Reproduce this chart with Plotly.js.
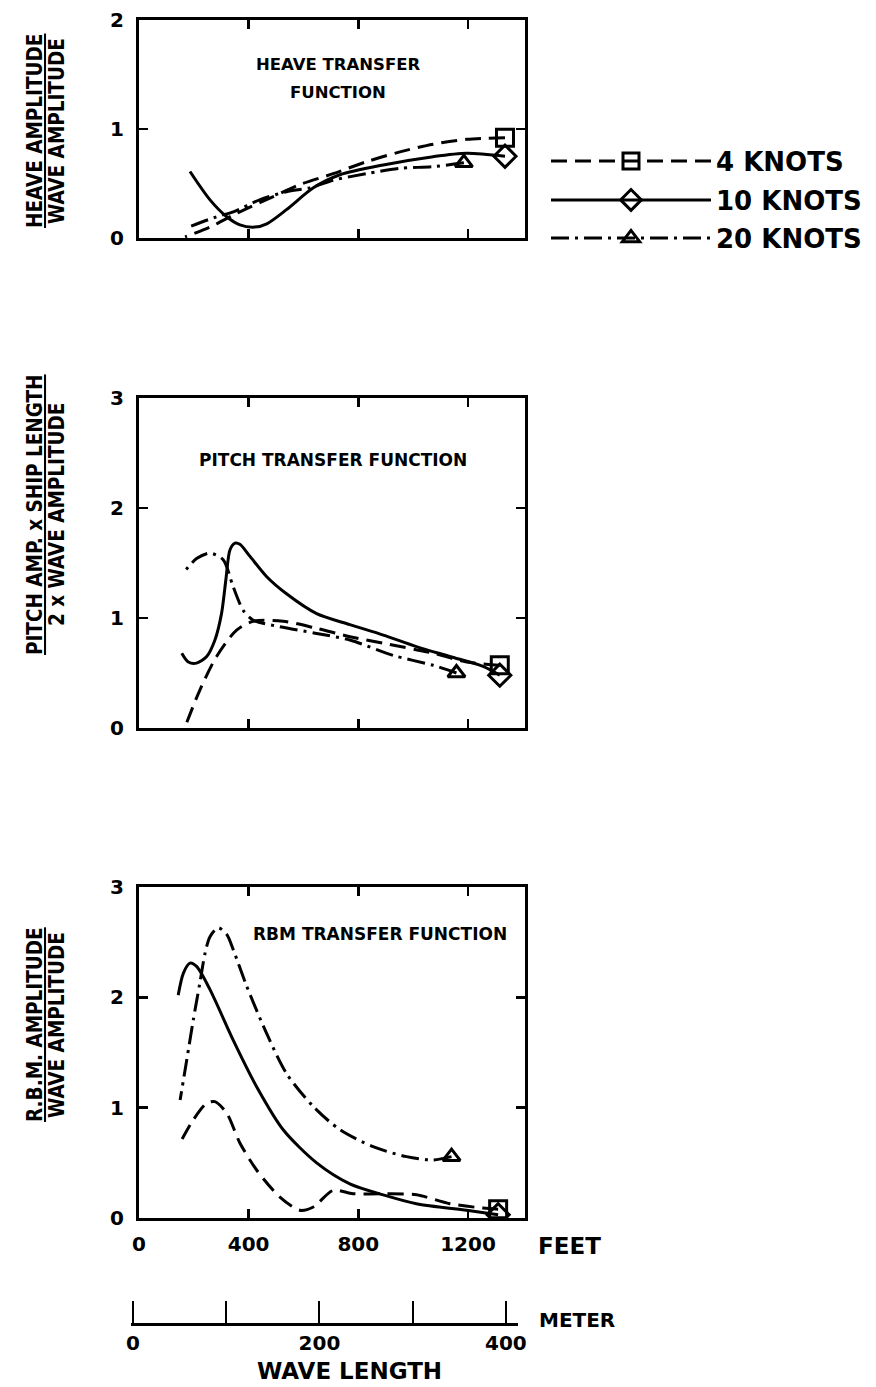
<!DOCTYPE html>
<html><head><meta charset="utf-8">
<script src="https://cdn.plot.ly/plotly-3.0.1.min.js"></script>
<style>html,body{margin:0;padding:0;background:#fff}#chart{width:876px;height:1387px}</style>
</head><body><div id="chart"></div>
<script>
// ---------- data (wave length in feet, transfer-function value) ----------
const seriesNames = ['4 KNOTS', '10 KNOTS', '20 KNOTS'];

const heaveX4  = [168, 259, 344, 393, 490, 587, 708, 830, 952, 1073, 1195, 1335];
const heaveY4  = [0.01, 0.10, 0.21, 0.27, 0.38, 0.49, 0.59, 0.70, 0.79, 0.86, 0.905, 0.92];
const heaveX10 = [186, 259, 320, 368, 423, 466, 538, 636, 733, 891, 1073, 1195, 1335];
const heaveY10 = [0.61, 0.35, 0.195, 0.12, 0.10, 0.13, 0.26, 0.46, 0.58, 0.67, 0.746, 0.777, 0.75];
const heaveX20 = [180, 283, 344, 440, 538, 623, 708, 830, 952, 1073, 1185];
const heaveY20 = [0.10, 0.195, 0.24, 0.35, 0.425, 0.46, 0.53, 0.59, 0.64, 0.654, 0.69];

const pitchX4  = [168, 222, 283, 356, 417, 526, 648, 769, 891, 1073, 1195, 1316];
const pitchY4  = [0.01, 0.345, 0.65, 0.89, 0.97, 0.97, 0.906, 0.83, 0.77, 0.68, 0.60, 0.57];
const pitchX10 = [156, 180, 210, 247, 277, 301, 317, 332, 350, 368, 405, 466, 538, 648, 769, 891, 1012, 1134, 1255, 1316];
const pitchY10 = [0.68, 0.60, 0.59, 0.65, 0.80, 1.04, 1.35, 1.62, 1.68, 1.67, 1.56, 1.375, 1.22, 1.04, 0.94, 0.845, 0.74, 0.65, 0.56, 0.48];
const pitchX20 = [162, 210, 259, 307, 344, 380, 417, 514, 648, 769, 927, 1073, 1158];
const pitchY20 = [1.41, 1.54, 1.59, 1.53, 1.28, 1.07, 0.98, 0.92, 0.86, 0.80, 0.66, 0.57, 0.50];

const rbmX4  = [156, 198, 247, 277, 320, 368, 429, 514, 587, 636, 708, 781, 891, 1012, 1134, 1255, 1310];
const rbmY4  = [0.71, 0.89, 1.04, 1.055, 0.95, 0.68, 0.435, 0.19, 0.07, 0.10, 0.25, 0.22, 0.22, 0.21, 0.13, 0.09, 0.08];
const rbmX10 = [143, 162, 186, 210, 259, 344, 429, 526, 648, 769, 891, 1012, 1195, 1310];
const rbmY10 = [2.02, 2.22, 2.31, 2.28, 2.07, 1.61, 1.19, 0.80, 0.50, 0.31, 0.21, 0.13, 0.07, 0.03];
const rbmX20 = [150, 174, 198, 222, 241, 259, 289, 320, 344, 393, 466, 538, 636, 733, 854, 976, 1073, 1140];
const rbmY20 = [1.07, 1.43, 1.795, 2.13, 2.40, 2.55, 2.63, 2.57, 2.43, 2.10, 1.67, 1.31, 1.01, 0.80, 0.646, 0.556, 0.526, 0.556];

const feetTicks = [0, 400, 800, 1200];
const feetTickText = ['0', '400', '800', '1200'];
const meterTicks = [0, 100, 200, 300, 400];
const meterTickText = ['0', '', '200', '', '400'];
const heaveTicks = [0, 1, 2];
const fullTicks = [0, 1, 2, 3];

// ---------- styles ----------
const W = 876, H = 1387;
const px = v => v / W;          // pixel -> paper x
const py = v => 1 - v / H;      // pixel -> paper y
const dashes = ['16px,8px', 'solid', '18px,6px,3px,6px'];
const symbols = ['square', 'diamond', 'triangle-up'];
const msize = [17, 17, 15];
const legendIds = ['legend', 'legend2', 'legend3'];
const legendRowsY = [161, 200, 238];
const CLEAR = 'rgba(0,0,0,0)';
const BOLD = {family: 'DejaVu Sans', weight: 'bold', color: '#000'};
const NARROW = {family: 'DejaVu Sans Condensed, Liberation Sans Narrow, Liberation Sans', weight: 'bold', color: '#000'};

// each curve is drawn from its far (right-hand) end so the end symbol is its first point
function trace(x, y, k, ax, showlegend) {
  const xr = x.slice().reverse(), yr = y.slice().reverse();
  return {
    x: xr, y: yr, name: seriesNames[k], legend: legendIds[k], showlegend: showlegend,
    xaxis: 'x' + ax, yaxis: 'y' + ax, type: 'scatter', mode: 'lines+markers',
    line: {color: '#000', width: 3, dash: dashes[k], shape: 'spline', smoothing: 0.8},
    marker: {symbol: symbols[k], color: CLEAR, size: msize[k],
             line: {width: 3, color: xr.map((_, i) => i === 0 ? '#000' : CLEAR)}},
    hoverinfo: 'x+y'
  };
}

const data = [
  trace(heaveX4, heaveY4, 0, '', true), trace(heaveX10, heaveY10, 1, '', true), trace(heaveX20, heaveY20, 2, '', true),
  trace(pitchX4, pitchY4, 0, '2', false), trace(pitchX10, pitchY10, 1, '2', false), trace(pitchX20, pitchY20, 2, '2', false),
  trace(rbmX4, rbmY4, 0, '3', false), trace(rbmX10, rbmY10, 1, '3', false), trace(rbmX20, rbmY20, 2, '3', false),
  // helper so the metric scale axis is drawn
  {x: meterTicks, y: meterTicks.map(() => 0), xaxis: 'x4', yaxis: 'y4', type: 'scatter', mode: 'markers',
   marker: {opacity: 0}, showlegend: false, hoverinfo: 'skip'}
];

const xDom = [px(139), px(525)];
const frame = {showline: true, linewidth: 3, linecolor: '#000', mirror: 'ticks', ticks: 'inside',
               ticklen: 9, tickwidth: 2.5, tickcolor: '#000', showgrid: false, zeroline: false, fixedrange: true};
function xax(showLabels, anchor) {
  return Object.assign({}, frame, {domain: xDom, range: [0, 1408], anchor: anchor,
    tickvals: showLabels ? feetTicks : feetTicks.slice(1), ticktext: showLabels ? feetTickText : feetTickText.slice(1),
    showticklabels: showLabels, tickfont: Object.assign({size: 20}, BOLD), ticklabelstandoff: 6});
}
function yax(dom, maxV, ticks, anchor) {
  return Object.assign({}, frame, {domain: dom, range: [0, maxV], tickvals: ticks, anchor: anchor,
    tickfont: Object.assign({size: 20}, BOLD), ticklabelstandoff: 8});
}
function legendAt(rowY) {
  return {x: px(546), y: py(rowY), xanchor: 'left', yanchor: 'middle', itemwidth: 160, itemsizing: 'trace',
          bgcolor: CLEAR, font: Object.assign({size: 26}, BOLD)};
}

const annotations = [
  {text: 'HEAVE TRANSFER', x: px(338), y: py(65), font: Object.assign({size: 16.5}, BOLD)},
  {text: 'FUNCTION', x: px(338), y: py(92), font: Object.assign({size: 16.5}, BOLD)},
  {text: 'PITCH TRANSFER FUNCTION', x: px(333), y: py(460), font: Object.assign({size: 17}, BOLD)},
  {text: 'RBM TRANSFER FUNCTION', x: px(380), y: py(934), font: Object.assign({size: 17}, BOLD)},
  {text: 'FEET', x: px(569), y: py(1246), font: Object.assign({size: 23}, BOLD)},
  {text: 'METER', x: px(577), y: py(1320), font: Object.assign({size: 20}, BOLD)},
  {text: 'WAVE LENGTH', x: px(349), y: py(1371), font: Object.assign({size: 23}, BOLD)},
  {text: '<u>HEAVE AMPLITUDE</u>', x: px(35), y: py(131), textangle: -90, font: Object.assign({size: 20.5}, NARROW)},
  {text: 'WAVE AMPLITUDE', x: px(57), y: py(131), textangle: -90, font: Object.assign({size: 20.5}, NARROW)},
  {text: '<u>PITCH AMP. x SHIP LENGTH</u>', x: px(35), y: py(515), textangle: -90, font: Object.assign({size: 20.5}, NARROW)},
  {text: '2 x WAVE AMPLITUDE', x: px(57), y: py(515), textangle: -90, font: Object.assign({size: 20.5}, NARROW)},
  {text: '<u>R.B.M. AMPLITUDE</u>', x: px(35), y: py(1025), textangle: -90, font: Object.assign({size: 20.5}, NARROW)},
  {text: 'WAVE AMPLITUDE', x: px(57), y: py(1025), textangle: -90, font: Object.assign({size: 20.5}, NARROW)}
].map(a => Object.assign({xref: 'paper', yref: 'paper', showarrow: false, xanchor: 'center', yanchor: 'middle'}, a));

const layout = {
  width: W, height: H, margin: {l: 0, r: 0, t: 0, b: 0},
  paper_bgcolor: '#fff', plot_bgcolor: '#fff', showlegend: true,
  xaxis: xax(false, 'y'), yaxis: yax([py(238), py(20)], 2, heaveTicks, 'x'),
  xaxis2: xax(false, 'y2'), yaxis2: yax([py(728), py(398)], 3, fullTicks, 'x2'),
  xaxis3: xax(true, 'y3'), yaxis3: yax([py(1218), py(887)], 3, fullTicks, 'x3'),
  xaxis4: {domain: [px(130.7), px(518)], range: [-2.5, 413], anchor: 'y4', showline: true, linewidth: 3, linecolor: '#000',
           ticks: 'inside', ticklen: 22, tickwidth: 2, tickcolor: '#000', tickvals: meterTicks, ticktext: meterTickText,
           tickfont: Object.assign({size: 20}, BOLD), showgrid: false, zeroline: false, fixedrange: true, ticklabelstandoff: 0},
  yaxis4: {domain: [py(1323), py(1300)], range: [0, 1], anchor: 'x4', visible: false, fixedrange: true},
  legend: legendAt(legendRowsY[0]), legend2: legendAt(legendRowsY[1]), legend3: legendAt(legendRowsY[2]),
  annotations: annotations
};

Plotly.newPlot('chart', data, layout, {staticPlot: true, displayModeBar: false});
</script>
</body></html>
